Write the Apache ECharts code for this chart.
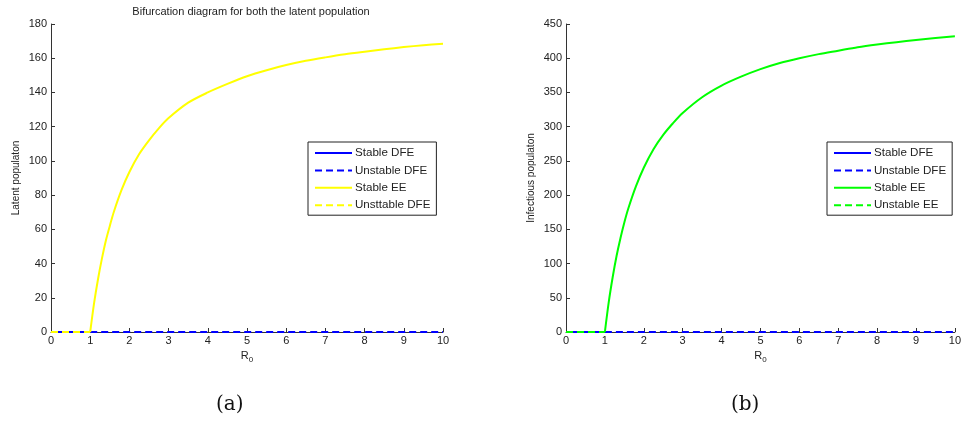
<!DOCTYPE html>
<html>
<head>
<meta charset="utf-8">
<script src="https://cdn.jsdelivr.net/npm/echarts@6/dist/echarts.min.js"></script>
<style>
  html, body { margin: 0; padding: 0; background: #fff; }
  #chart { width: 964px; height: 428px; }
</style>
</head>
<body>
<div id="chart"></div>
<script>
// Basic reproduction number samples along the endemic branch
var r0Values = [1, 1.1, 1.2, 1.3, 1.4, 1.5, 1.6, 1.8, 2, 2.25, 2.5, 2.75, 3, 3.5, 4, 4.5, 5, 5.5, 6, 6.5, 7, 7.5, 8, 8.5, 9, 9.5, 10];
// Endemic equilibrium, latent compartment
var latentEE = [0, 17, 31, 43, 53.5, 62, 70, 83, 93.5, 104, 112, 119, 125, 134, 140, 145, 149.5, 153, 156, 158.5, 160.5, 162.3, 163.8, 165.2, 166.5, 167.6, 168.5];
// Endemic equilibrium, infectious compartment
var infectiousEE = [0, 44, 80, 111, 137, 160, 180, 213, 240, 267, 288, 305, 320, 343, 360, 373, 384, 393, 400, 406, 411, 416, 420, 423.5, 426.7, 429.5, 432];
// Disease-free branches (population zero)
var dfeStableR = [0, 1];
var dfeUnstableR = [1, 10];
var eeUnstableR = [0, 1];
var zeroLevel = 0;

var xTicks = { min: 0, max: 10, interval: 1 };
var latentTicks = { min: 0, max: 180, interval: 20 };
var infectiousTicks = { min: 0, max: 450, interval: 50 };

var BLUE = '#0000ff', YELLOW = '#ffff00', GREEN = '#00ff00';
var FONT = 'Liberation Sans, Arial, sans-serif';

function pairs(xs, ys) { return xs.map(function (x, i) { return [x, ys[i]]; }); }
function flat(xs) { return xs.map(function (x) { return [x, zeroLevel]; }); }

function xAxisFor(gridIndex) {
  return {
    type: 'value', gridIndex: gridIndex,
    min: xTicks.min, max: xTicks.max, interval: xTicks.interval,
    name: 'R{sub|0}', nameLocation: 'middle', nameGap: 14,
    nameTextStyle: { fontFamily: FONT, fontSize: 11, color: '#222',
      rich: { sub: { fontSize: 8, verticalAlign: 'bottom', padding: [6, 0, 0, 0], fontFamily: FONT, color: '#222' } } },
    axisLine: { show: true, lineStyle: { color: '#333', width: 1 } },
    axisTick: { show: true, inside: true, length: 4, lineStyle: { color: '#333' } },
    axisLabel: { fontFamily: FONT, fontSize: 11, color: '#222', margin: 3 },
    splitLine: { show: false }
  };
}
function yAxisFor(gridIndex, ticks, name, gap) {
  return {
    type: 'value', gridIndex: gridIndex,
    min: ticks.min, max: ticks.max, interval: ticks.interval,
    name: name, nameLocation: 'middle', nameGap: gap, nameRotate: 90,
    nameTextStyle: { fontFamily: FONT, fontSize: 10, color: '#222' },
    axisLine: { show: true, lineStyle: { color: '#333', width: 1 } },
    axisTick: { show: true, inside: true, length: 4, lineStyle: { color: '#333' } },
    axisLabel: { fontFamily: FONT, fontSize: 11, color: '#222', margin: 4 },
    splitLine: { show: false }
  };
}
function lineSeries(name, idx, data, color, dashed, z, smooth) {
  return {
    type: 'line', name: name, xAxisIndex: idx, yAxisIndex: idx,
    data: data, symbol: 'none', showSymbol: false, clip: false, z: z,
    smooth: smooth ? 0.3 : false,
    animation: false,
    lineStyle: { color: color, width: 2, type: dashed ? [7, 4] : 'solid' },
    itemStyle: { color: color }
  };
}
function legendFor(left, items) {
  return {
    orient: 'vertical', left: left, top: 142,
    itemWidth: 37, itemHeight: 10, itemGap: 5.4,
    padding: [5, 6, 4, 6],
    borderColor: '#222', borderWidth: 1, backgroundColor: '#fff',
    itemStyle: { opacity: 0, borderWidth: 0 },
    textStyle: { fontFamily: FONT, fontSize: 11.6, color: '#222', padding: [0, 0, 0, -2] },
    selectedMode: false,
    data: items
  };
}

var chart = echarts.init(document.getElementById('chart'), null, { renderer: 'canvas' });
chart.setOption({
  backgroundColor: '#fff',
  animation: false,
  title: {
    text: 'Bifurcation diagram for both the latent population',
    left: 246, top: 1, textAlign: 'center',
    textStyle: { fontFamily: FONT, fontSize: 11, fontWeight: 'normal', color: '#222' }
  },
  grid: [
    { left: 51, top: 24, width: 392, height: 308 },
    { left: 566, top: 24, width: 392, height: 308 }
  ],
  xAxis: [xAxisFor(0), xAxisFor(1)],
  yAxis: [
    yAxisFor(0, latentTicks, 'Latent populaton', 30),
    yAxisFor(1, infectiousTicks, 'Infectious populaton', 30)
  ],
  legend: [
    legendFor(308, [
      { name: 'Stable DFE' },
      { name: 'Unstable DFE' },
      { name: 'Stable EE', lineStyle: { color: YELLOW } },
      { name: 'Unsttable DFE' }
    ]),
    legendFor(827, [
      { name: 'Stable DFE' },
      { name: 'Unstable DFE' },
      { name: 'Stable EE', lineStyle: { color: GREEN } },
      { name: 'Unstable EE' }
    ])
  ],
  series: [
    lineSeries('Stable DFE', 0, flat(dfeStableR), BLUE, false, 2),
    lineSeries('Unstable DFE', 0, flat(dfeUnstableR), BLUE, true, 3),
    lineSeries('Stable EE', 0, pairs(r0Values, latentEE), YELLOW, false, 4, true),
    lineSeries('Unsttable DFE', 0, flat(eeUnstableR), YELLOW, true, 5),
    lineSeries('Stable DFE', 1, flat(dfeStableR), BLUE, false, 2),
    lineSeries('Unstable DFE', 1, flat(dfeUnstableR), BLUE, true, 3),
    lineSeries('Stable EE', 1, pairs(r0Values, infectiousEE), GREEN, false, 4, true),
    lineSeries('Unstable EE', 1, flat(eeUnstableR), GREEN, true, 5)
  ],
  graphic: [
    { type: 'text', left: 216, top: 395,
      style: { text: '(a)', font: '20px "DejaVu Serif", "Liberation Serif", serif', fill: '#111' } },
    { type: 'text', left: 731, top: 395,
      style: { text: '(b)', font: '20px "DejaVu Serif", "Liberation Serif", serif', fill: '#111' } }
  ]
});
</script>
</body>
</html>
